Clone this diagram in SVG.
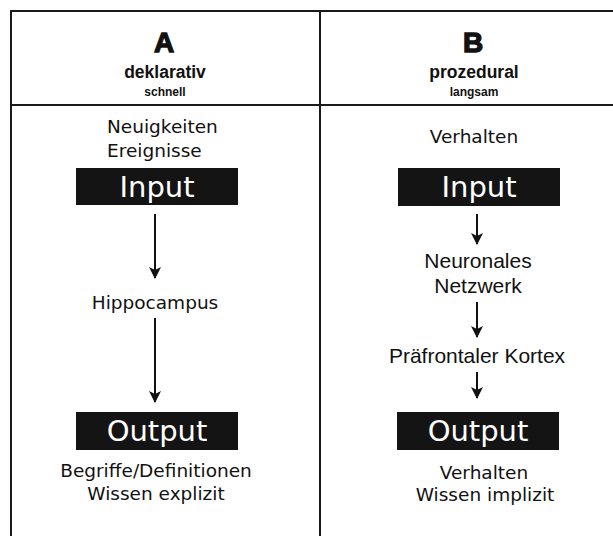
<svg xmlns="http://www.w3.org/2000/svg" width="613" height="536" viewBox="0 0 613 536">
  <defs>
    <marker id="head" markerWidth="12" markerHeight="12" refX="6" refY="11" orient="0" markerUnits="userSpaceOnUse" viewBox="0 0 12 12">
      <path d="M0,0 L6,3 L12,0 L6,12 Z" fill="#111"/>
    </marker>
    <style>
      .frame { stroke: #1a1a1a; stroke-width: 2; fill: none; }
      .box { fill: #141414; }
      .boxlabel { font-family: "DejaVu Sans", sans-serif; font-size: 29px; fill: #fff; text-anchor: middle; }
      .lbl { font-family: "DejaVu Sans", sans-serif; font-size: 18.5px; fill: #111; }
      .lbl2 { font-family: "Liberation Sans", Arial, sans-serif; font-size: 21px; fill: #111; text-anchor: middle; }
      .mid { text-anchor: middle; }
      .head1 { font-family: "Liberation Sans", Arial, sans-serif; font-weight: bold; font-size: 28px; fill: #111; text-anchor: middle; stroke: #111; stroke-width: 1.3; }
      .head2 { font-family: "Liberation Sans", Arial, sans-serif; font-weight: bold; font-size: 17.5px; fill: #111; text-anchor: middle; }
      .head3 { font-family: "Liberation Sans", Arial, sans-serif; font-weight: bold; font-size: 12px; fill: #111; text-anchor: middle; }
      .arrow { stroke: #111; stroke-width: 2; fill: none; marker-end: url(#head); }
    </style>
  </defs>

  <!-- table frame -->
  <g id="frame">
    <line class="frame" x1="11" y1="11" x2="613" y2="11"/>
    <line class="frame" x1="11" y1="105" x2="613" y2="105"/>
    <line class="frame" x1="11" y1="10" x2="11" y2="536"/>
    <line class="frame" x1="320" y1="10" x2="320" y2="536"/>
  </g>

  <!-- column headers -->
  <g id="header-a">
    <text class="head1" x="164" y="52">A</text>
    <text class="head2" x="165" y="78">deklarativ</text>
    <text class="head3" x="165" y="96">schnell</text>
  </g>
  <g id="header-b">
    <text class="head1" x="473" y="52">B</text>
    <text class="head2" x="474" y="78">prozedural</text>
    <text class="head3" x="474" y="96">langsam</text>
  </g>

  <!-- column A: declarative -->
  <g id="a-source">
    <text class="lbl" x="107" y="133">Neuigkeiten</text>
    <text class="lbl" x="107" y="157">Ereignisse</text>
  </g>
  <g id="a-input">
    <rect class="box" x="76" y="168" width="162" height="37"/>
    <text class="boxlabel" x="157" y="197">Input</text>
  </g>
  <g id="a-hippocampus">
    <text class="lbl mid" x="155" y="309">Hippocampus</text>
  </g>
  <g id="a-output">
    <rect class="box" x="76" y="412" width="162" height="38"/>
    <text class="boxlabel" x="157" y="441">Output</text>
  </g>
  <g id="a-result">
    <text class="lbl mid" x="156" y="477">Begriffe/Definitionen</text>
    <text class="lbl mid" x="156" y="500">Wissen explizit</text>
  </g>

  <!-- column B: procedural -->
  <g id="b-source">
    <text class="lbl mid" x="474" y="143">Verhalten</text>
  </g>
  <g id="b-input">
    <rect class="box" x="398" y="168" width="162" height="38"/>
    <text class="boxlabel" x="479" y="197">Input</text>
  </g>
  <g id="b-network">
    <text class="lbl2" x="478" y="268">Neuronales</text>
    <text class="lbl2" x="478" y="293">Netzwerk</text>
  </g>
  <g id="b-cortex">
    <text class="lbl2" x="477" y="363">Präfrontaler Kortex</text>
  </g>
  <g id="b-output">
    <rect class="box" x="397" y="412" width="162" height="38"/>
    <text class="boxlabel" x="478" y="441">Output</text>
  </g>
  <g id="b-result">
    <text class="lbl mid" x="484" y="479">Verhalten</text>
    <text class="lbl mid" x="485" y="501">Wissen implizit</text>
  </g>

  <!-- connectors -->
  <g id="connectors">
    <line class="arrow" x1="155" y1="214" x2="155" y2="278"/>
    <line class="arrow" x1="155" y1="318" x2="155" y2="402"/>
    <line class="arrow" x1="477" y1="214" x2="477" y2="244"/>
    <line class="arrow" x1="477" y1="302" x2="477" y2="337"/>
    <line class="arrow" x1="477" y1="372" x2="477" y2="398"/>
  </g>
</svg>
